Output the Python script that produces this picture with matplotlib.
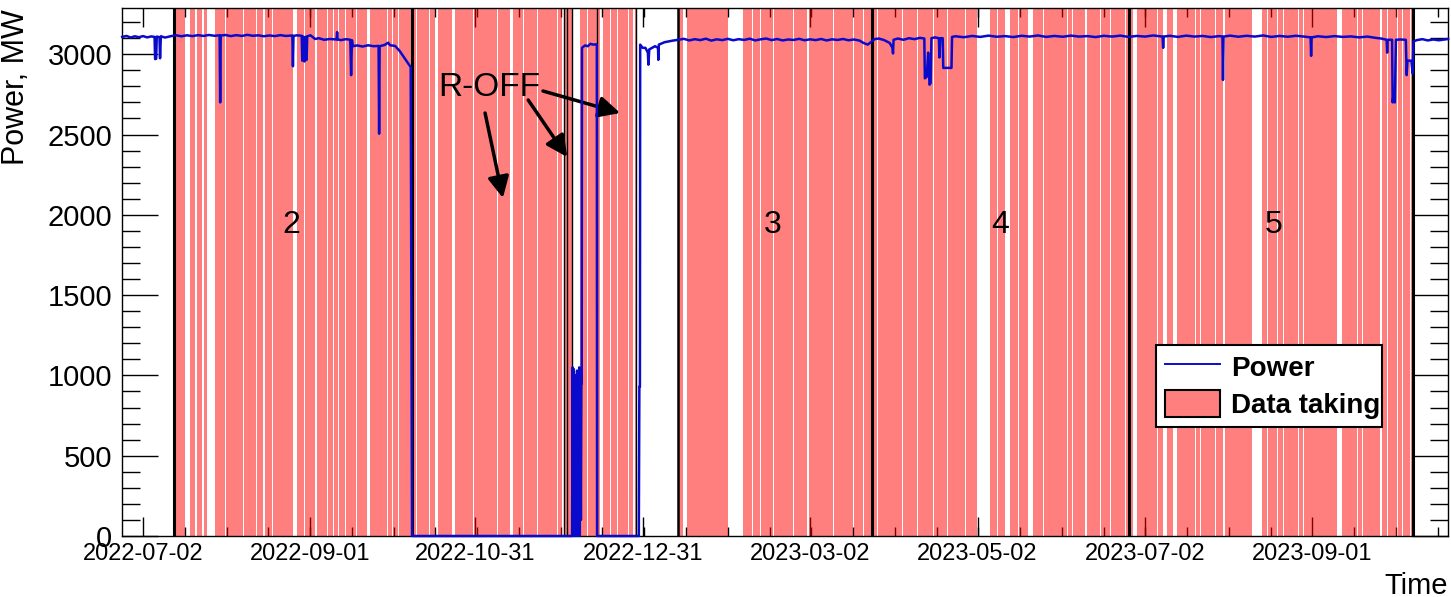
import numpy as np
import matplotlib.pyplot as plt
import matplotlib.dates as mdates
from matplotlib.lines import Line2D
from matplotlib.patches import Patch
from datetime import datetime

plt.rcParams['font.family'] = ['Liberation Sans', 'DejaVu Sans']

# all times are days since 2022-07-02
T0 = mdates.date2num(datetime(2022, 7, 2))

tick_dates = ['2022-07-02', '2022-09-01', '2022-10-31', '2022-12-31',
              '2023-03-02', '2023-05-02', '2023-07-02', '2023-09-01']

# data taking periods and the white gaps inside them
taking_segments = [(11.3, 179.6), (194.9, 462.7)]
taking_gaps = [
    (15.3, 17.1), (18.9, 19.7), (21.5, 22.2), (23.3, 26.2), (29.9, 30.2),
    (36.3, 36.7), (41.2, 41.5), (43.7, 44.4), (47.0, 47.3), (54.6, 56.1),
    (58.7, 59.0), (62.7, 63.4), (67.0, 67.3), (69.2, 69.6), (71.0, 71.4),
    (73.6, 73.9), (77.6, 77.9), (81.6, 82.7), (88.9, 89.3), (90.7, 91.1),
    (92.9, 93.3),
    (99.5, 99.8), (104.2, 104.5), (106.4, 107.5), (112.6, 113.7), (120.2, 120.6),
    (129.0, 129.3), (133.7, 134.8), (138.4, 138.8), (143.5, 143.9), (150.8, 151.1),
    (152.6, 153.2), (156.6, 159.2), (161.7, 162.1), (166.5, 167.6), (170.1, 170.5),
    (172.7, 173.0), (176.7, 177.0), (178.5, 179.2),
    (196.7, 198.2), (213.1, 218.6), (221.9, 222.2), (224.8, 225.1), (229.5, 229.9),
    (236.8, 237.2), (241.9, 242.6), (251.4, 251.7), (258.7, 259.0), (262.3, 262.7),
    (267.4, 267.8), (276.5, 276.9), (282.0, 282.3), (287.8, 288.2), (292.9, 293.3),
    (299.5, 299.8), (303.8, 308.6), (311.1, 311.5), (314.0, 315.8), (318.8, 319.1),
    (322.4, 324.2), (327.9, 328.2), (336.6, 337.0), (338.4, 338.8), (343.2, 343.9),
    (348.6, 349.0), (352.3, 352.6), (357.7, 358.1), (360.7, 362.1), (369.4, 369.8),
    (371.6, 373.0), (375.2, 376.7), (383.2, 383.6), (385.1, 385.4), (390.5, 390.9),
    (393.4, 394.2), (404.0, 407.7), (409.5, 409.8), (413.1, 413.5), (415.3, 415.7),
    (420.8, 421.1), (422.6, 423.0), (435.0, 436.8), (442.3, 442.6), (444.1, 444.5),
    (450.6, 451.4), (453.2, 453.6), (456.8, 457.2), (458.6, 459.0), (461.5, 461.9),
]

# period boundaries (black lines)
boundary_days = [11.3, 98.0, 153.4, 154.5, 156.3, 165.4, 179.6, 194.9, 265.6, 359.2, 462.7]
boundary_width = [2.2, 2.2, 1.0, 1.0, 1.0, 1.0, 1.0, 1.8, 2.2, 2.2, 2.2]

period_labels = ['2', '3', '4', '5']
period_label_day = [53.9, 229.5, 312.2, 411.7]

# reactor thermal power
power_day = [
    -7.6, -6.0, -4.5, -3.0, -1.5, 0.0, 1.5, 3.0, 4.2, 4.4, 4.8, 5.0, 6.0, 6.2, 6.5,
    8.0, 10.0, 12.0, 14.0, 16.0, 18.0, 20.0, 22.0, 24.0, 26.0, 27.9, 28.1, 28.3,
    30, 32, 34, 36, 38, 40, 42, 44, 46, 48, 50, 52, 54.4, 54.6, 54.8, 56,
    57.8, 58.0, 58.4, 58.8, 59.2, 59.6, 59.8, 61, 62.7, 64, 66, 68, 70.5, 70.7, 70.9,
    72, 74, 75.5, 75.8, 76.1, 76.4, 78, 80, 82, 84, 85.8, 86.0, 86.2, 88, 89.3,
    90, 91.8, 93.5, 95.5, 97.5, 98.0,
    156.3, 156.5, 156.7, 156.9, 157.1, 157.3, 157.5, 157.7, 157.9, 158.1, 158.3,
    158.5, 158.7, 158.9, 159.1, 159.3, 159.5, 159.7, 159.8, 159.9,
    161, 162, 163, 164, 165.3, 165.4,
    180.6, 180.8, 181.0, 181.1, 182.0, 183.0, 183.9, 184.1, 184.4, 186.5, 187.6,
    187.7, 187.9, 190, 193,
    195, 197, 199, 201, 203, 205, 207, 209, 211, 213, 215, 217, 219, 221, 223,
    225, 227, 229, 231, 233, 235, 237, 239, 241, 243, 245, 247, 249, 251, 253,
    255, 257, 259, 261, 262.5, 264, 265.5, 266.5, 268, 270, 272, 273.0, 273.2,
    273.4, 275, 277, 279, 281, 283, 284.6, 284.8, 285.5, 286.0, 286.5, 286.9,
    287.2, 288.5, 289.9, 290.1, 290.4, 291.3, 291.5, 294.5, 294.7,
    296, 299, 302, 305, 308, 311, 314, 317, 320, 323, 326, 329, 332, 335, 338,
    341, 344, 347, 350, 353, 356, 359, 362, 365, 368, 371.4, 371.6, 371.8,
    374, 377, 380, 383, 386, 389, 392, 393.2, 393.4, 393.6, 396, 399, 402, 405,
    408, 411, 414, 417, 420, 423, 425.3, 425.5, 425.7, 428, 431, 434, 437, 440,
    443, 446, 449, 451, 453.0, 453.2, 453.4, 455.0, 455.2, 455.6, 456.0, 456.4,
    458, 460.0, 460.3, 460.6, 462.0, 462.5, 462.8, 464, 466, 468, 470, 472, 475.4,
]
power_mw = [
    3108, 3114, 3104, 3112, 3106, 3113, 3105, 3111, 3108, 2970, 2972, 3110, 3106, 2975, 3112,
    3104, 3112, 3118, 3112, 3118, 3113, 3119, 3114, 3120, 3115, 3118, 2700, 3116,
    3120, 3113, 3119, 3114, 3121, 3115, 3118, 3112, 3117, 3113, 3119, 3114, 3117, 2925, 3114, 3118,
    3115, 2960, 3110, 2955, 3108, 2965, 3112, 3118, 3095, 3100, 3090, 3095, 3092, 3138, 3092,
    3088, 3094, 3090, 2870, 3088, 3050, 3055, 3048, 3056, 3050, 3052, 2505, 3050, 3058, 3072,
    3056, 3052, 3020, 2970, 2920, 0,
    0, 1050, 0, 1040, 300, 950, 0, 1000, 150, 1030, 0, 980, 200, 1050, 0, 900,
    100, 1000, 950, 3040,
    3055, 3050, 3065, 3060, 3062, 0,
    0, 930, 930, 3060, 3040, 3040, 3010, 2935, 3030, 3050, 3040,
    2965, 3060, 3075, 3085,
    3090, 3096, 3086, 3094, 3088, 3097, 3085, 3093, 3088, 3096, 3087, 3094, 3089, 3097, 3086,
    3093, 3098, 3088, 3095, 3086, 3092, 3089, 3096, 3087, 3093, 3088, 3095, 3086, 3093, 3089,
    3095, 3087, 3092, 3085, 3070, 3060, 3080, 3094, 3098, 3088, 3070, 3040, 3005,
    3090, 3098, 3090, 3100, 3094, 3102, 3098, 2850, 2860, 3010, 2810, 2820,
    3100, 3105, 3100, 2980, 3100, 3100, 2915, 2915, 3108,
    3112, 3106, 3114, 3108, 3116, 3109, 3113, 3107, 3115, 3110, 3117, 3108, 3114, 3109, 3116,
    3110, 3113, 3107, 3115, 3110, 3116, 3108, 3114, 3110, 3117, 3110, 3040, 3110,
    3115, 3108, 3116, 3110, 3114, 3107, 3113, 3110, 2840, 3110, 3116, 3109, 3115, 3110,
    3117, 3108, 3114, 3109, 3115, 3110, 3105, 2990, 3105, 3112, 3107, 3113, 3108, 3111,
    3105, 3110, 3102, 3098, 3090, 3010, 3090, 3090, 2700, 2760, 2700, 3090,
    3092, 3090, 2870, 2960, 2960, 2880, 3080, 3088, 3094, 3086, 3092, 3087, 3095,
]

# complement of gaps inside each segment -> data-taking runs
runs = []
for s0, s1 in taking_segments:
    cur = s0
    for g0, g1 in sorted(taking_gaps):
        if g1 <= s0 or g0 >= s1:
            continue
        if g0 > cur:
            runs.append((T0 + cur, g0 - cur))
        cur = max(cur, g1)
    if s1 > cur:
        runs.append((T0 + cur, s1 - cur))

YMAX = 3288
XMIN, XMAX = T0 - 7.65, T0 + 475.4
fig = plt.figure(figsize=(14.51, 5.97), dpi=100)
ax = fig.add_axes([0.0841, 0.1022, 0.9139, 0.8844])

ax.broken_barh(runs, (0, YMAX), facecolors=(1, 0, 0, 0.5), linewidth=0, zorder=1)
for d, w in zip(boundary_days, boundary_width):
    ax.axvline(T0 + d, color='black', lw=w, zorder=2)

x = T0 + np.array(power_day)
ax.plot(x, power_mw, color='#0a0acc', lw=1.8, zorder=6, clip_on=False)

for lab, d in zip(period_labels, period_label_day):
    ax.text(T0 + d, 1937, lab, fontsize=23, ha='center', va='center', zorder=4)

ax.text(T0 + 126.0, 2796, 'R-OFF', fontsize=24, ha='center', va='center', zorder=4)
arrows = [((124.6, 2634), (131.1, 2105)),
          ((140.3, 2715), (154.5, 2360)),
          ((145.7, 2771), (173.8, 2634))]
for (d0, v0), (d1, v1) in arrows:
    ax.annotate('', xy=(T0 + d1, v1), xytext=(T0 + d0, v0),
                arrowprops=dict(arrowstyle='-|>', color='black', lw=2.5,
                                mutation_scale=32, shrinkA=0, shrinkB=0), zorder=4)

major = mdates.datestr2num(tick_dates)
step = np.mean(np.diff(major)) / 4
minor = np.arange(major[0] - 2 * step, XMAX, step)
minor = minor[(minor > XMIN) & (minor < XMAX)]
ax.set_xticks(major)
ax.set_xticklabels(tick_dates)
ax.set_xticks(minor, minor=True)
ax.set_yticks(np.arange(0, 3001, 500))
ax.set_yticks(np.arange(0, 3201, 100), minor=True)

ax.set_xlim(XMIN, XMAX)
ax.set_ylim(0, YMAX)

ax.set_axisbelow(True)
ax.tick_params(axis='both', which='both', direction='in', top=True, right=True, color='black')
ax.tick_params(axis='y', which='major', length=26, width=1, labelsize=21, pad=7)
ax.tick_params(axis='y', which='minor', length=13, width=1)
ax.tick_params(axis='x', which='major', length=14, width=1, labelsize=17, pad=5)
ax.tick_params(axis='x', which='minor', length=6.5, width=1)
for s in ax.spines.values():
    s.set_linewidth(1.0)
    s.set_zorder(5)

ax.set_ylabel('Power, MW', fontsize=22, loc='top')
ax.yaxis.set_label_coords(-0.069, 0.997)
ax.set_xlabel('Time', fontsize=21, loc='right')
ax.xaxis.set_label_coords(1.0, -0.068)

handles = [Line2D([], [], color='#0a0acc', lw=1.4),
           Patch(facecolor=(1, 0, 0, 0.5), edgecolor='black', lw=1.5)]
leg = ax.legend(handles, ['Power', 'Data taking'], loc='lower left',
                bbox_to_anchor=(0.780, 0.206, 0.170, 0.152), mode='expand',
                prop={'weight': 'bold', 'size': 20}, fancybox=False,
                edgecolor='black', framealpha=1, borderaxespad=0,
                handlelength=2.0, handleheight=1.1, labelspacing=0.3,
                borderpad=0.3, handletextpad=0.4)
leg.get_frame().set_linewidth(1.5)
leg.set_zorder(7)

fig.savefig('out.png', dpi=100)
